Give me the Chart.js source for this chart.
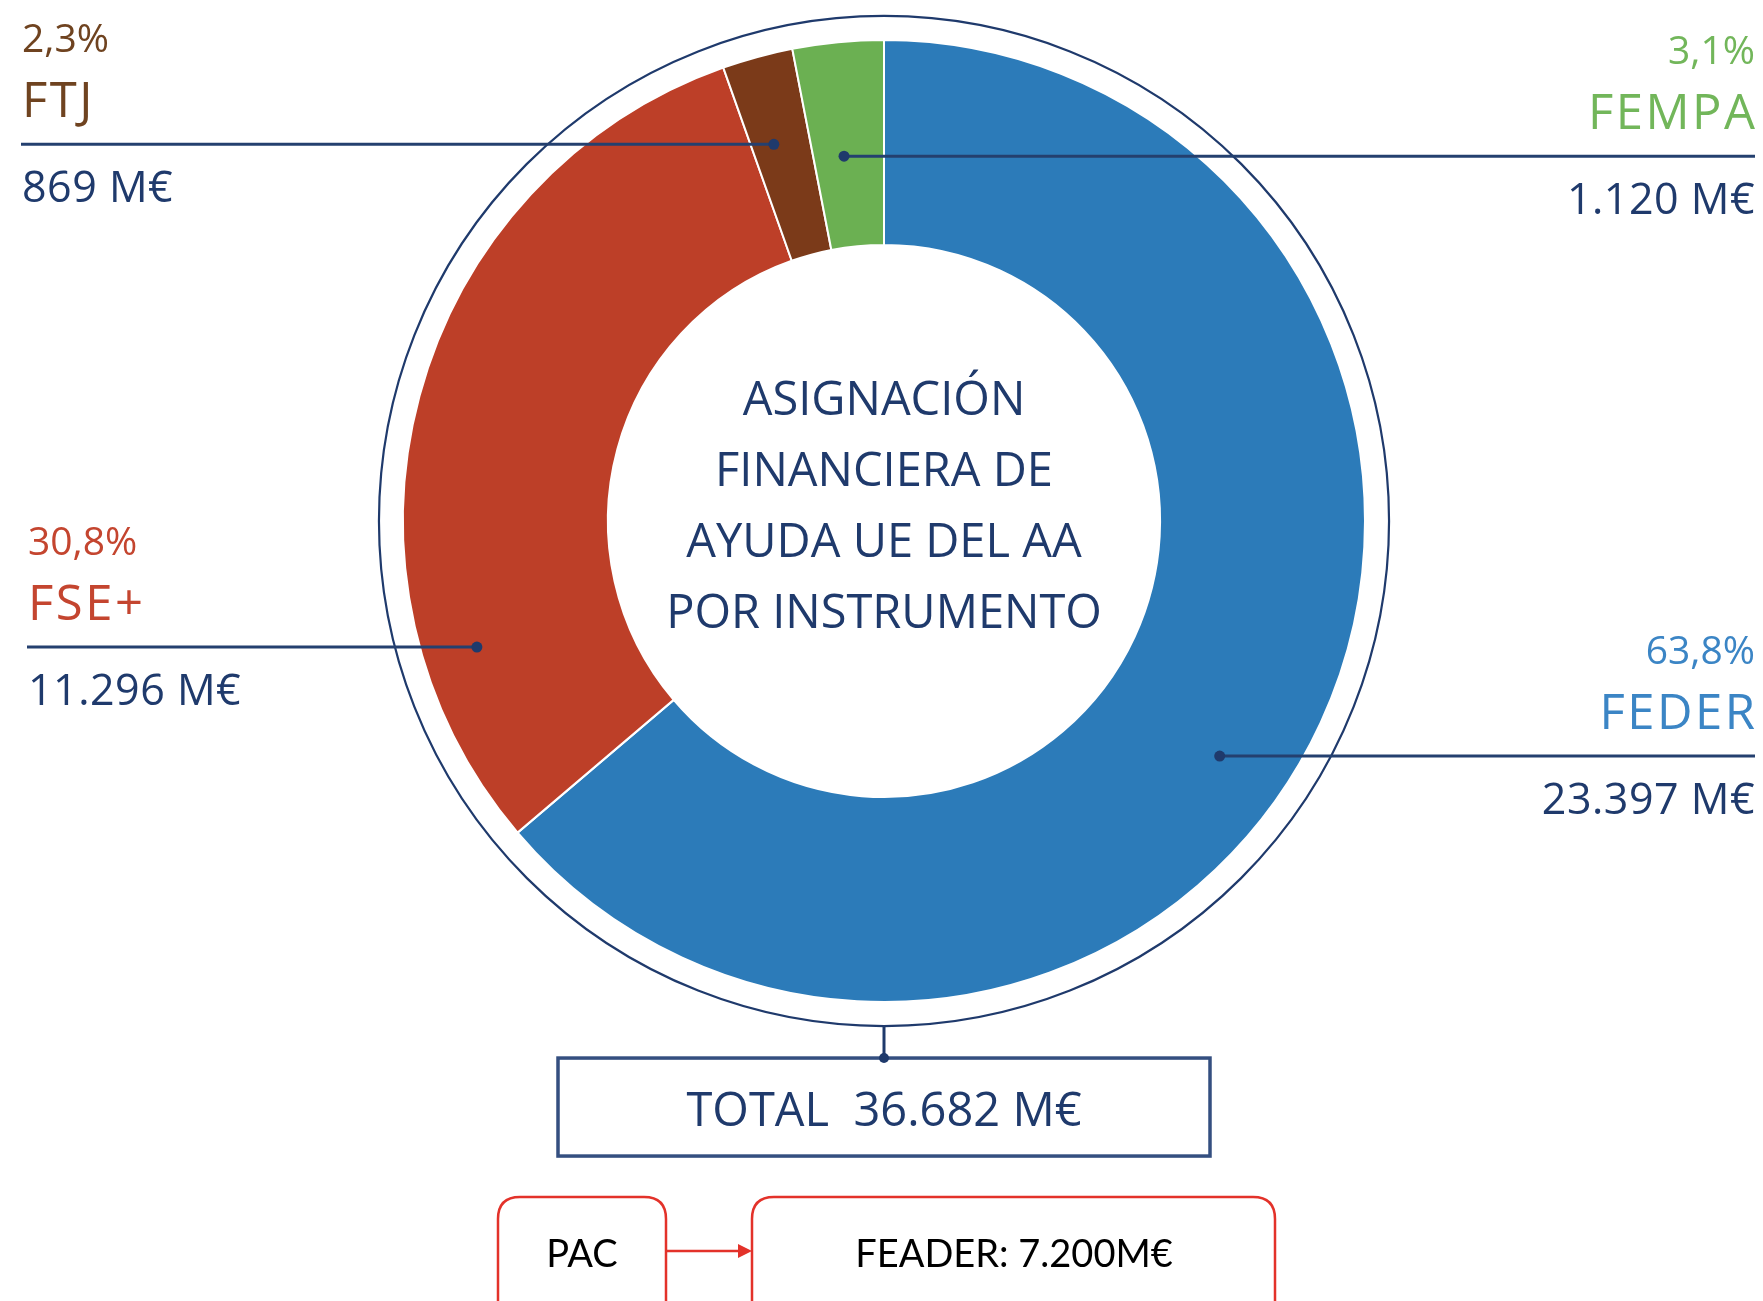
<!DOCTYPE html>
<html lang="es">
<head>
<meta charset="utf-8">
<title>Asignación financiera de ayuda UE del AA por instrumento</title>
<script src="https://cdn.jsdelivr.net/npm/chart.js@4.4.1/dist/chart.umd.min.js"></script>
<style>
  html, body { margin: 0; padding: 0; background: #ffffff; }
  #wrap { position: relative; width: 1763px; height: 1301px; }
</style>
</head>
<body>
<div id="wrap"><canvas id="fondosChart"></canvas></div>
<script>
const instrumentos = ['FEDER', 'FSE+', 'FTJ', 'FEMPA'];
const importes = [23397, 11296, 869, 1120]; // M€
const porcentajes = ['63,8%', '30,8%', '2,3%', '3,1%'];
const importesTexto = ['23.397 M€', '11.296 M€', '869 M€', '1.120 M€'];
const tituloCentro = ['ASIGNACIÓN', 'FINANCIERA DE', 'AYUDA UE DEL AA', 'POR INSTRUMENTO'];
const totalTexto = 'TOTAL  36.682 M€';
const pacTexto = 'PAC';
const feaderTexto = 'FEADER: 7.200M€';

const coloresSector = ['#2c7bb9', '#bd3f28', '#7b3a19', '#6bb052'];
const coloresEtiqueta = ['#3b85c5', '#c4452f', '#6f4320', '#72b65a'];
const NAVY = '#1f3a6c';
const ROJO = '#e3322a';

// leader dots: angle clockwise from 12 o'clock, distance as share of outer radius
const llamadas = [
  { lado: 'right', angulo: 125.0, radio: 0.852, margen: 8 },
  { lado: 'left', angulo: 252.8, radio: 0.886, margen: 28 },
  { lado: 'left', angulo: 343.7, radio: 0.816, margen: 22 },
  { lado: 'right', angulo: 353.75, radio: 0.763, margen: 8 }
];

function roundRect(c, x, y, w, h, r) {
  c.beginPath();
  c.moveTo(x + r, y);
  c.lineTo(x + w - r, y);
  c.quadraticCurveTo(x + w, y, x + w, y + r);
  c.lineTo(x + w, y + h - r);
  c.quadraticCurveTo(x + w, y + h, x + w - r, y + h);
  c.lineTo(x + r, y + h);
  c.quadraticCurveTo(x, y + h, x, y + h - r);
  c.lineTo(x, y + r);
  c.quadraticCurveTo(x, y, x + r, y);
  c.closePath();
}

const anotaciones = {
  id: 'anotaciones',
  afterDraw(chart) {
    const arc = chart.getDatasetMeta(0).data[0];
    const cx = arc.x, cy = arc.y, R = arc.outerRadius;
    const W = chart.width;
    const c = chart.ctx;
    c.save();

    // outer thin ring
    const ringR = R * 1.05;
    c.beginPath();
    c.arc(cx, cy, ringR, 0, Math.PI * 2);
    c.strokeStyle = NAVY;
    c.lineWidth = 2.2;
    c.stroke();

    // title in the hole
    c.fillStyle = NAVY;
    c.font = '47px "Open Sans"';
    c.textAlign = 'center';
    c.textBaseline = 'alphabetic';
    tituloCentro.forEach((t, i) => c.fillText(t, cx, cy + (i - 1.5) * 71));

    // callouts
    llamadas.forEach((l, i) => {
      const a = (l.angulo - 90) * Math.PI / 180;
      const px = cx + Math.cos(a) * R * l.radio;
      const py = cy + Math.sin(a) * R * l.radio;
      const izq = l.lado === 'left';
      const tx = izq ? l.margen : W - l.margen;

      c.beginPath();
      c.moveTo(izq ? l.margen - 1 : px, py);
      c.lineTo(izq ? px : W - l.margen, py);
      c.strokeStyle = '#24406f';
      c.lineWidth = 3;
      c.stroke();
      c.beginPath();
      c.arc(px, py, 5.5, 0, Math.PI * 2);
      c.fillStyle = NAVY;
      c.fill();

      c.textAlign = izq ? 'left' : 'right';
      c.fillStyle = coloresEtiqueta[i];
      c.font = '39px "Open Sans"';
      c.fillText(porcentajes[i], tx, py - 92);
      c.font = '49px "Open Sans"';
      c.letterSpacing = '2.5px';
      c.fillText(instrumentos[i], tx + (izq ? 0 : 2.5), py - 27);
      c.letterSpacing = '0.5px';
      c.fillStyle = NAVY;
      c.font = '43px "Open Sans"';
      c.fillText(importesTexto[i], tx, py + 58);
      c.letterSpacing = '0px';
    });

    // total box with connector
    const boxTop = cy + ringR + 32;
    const boxW = 652, boxH = 98;
    c.beginPath();
    c.moveTo(cx, cy + ringR);
    c.lineTo(cx, boxTop);
    c.strokeStyle = NAVY;
    c.lineWidth = 3;
    c.stroke();
    c.strokeStyle = '#344f80';
    c.lineWidth = 3.5;
    c.strokeRect(cx - boxW / 2, boxTop, boxW, boxH);
    c.beginPath();
    c.arc(cx, boxTop, 5, 0, Math.PI * 2);
    c.fillStyle = NAVY;
    c.fill();
    c.textAlign = 'center';
    c.font = '47px "Open Sans"';
    c.fillText(totalTexto, cx, boxTop + 68);

    // PAC -> FEADER boxes
    const pTop = boxTop + 139;
    c.strokeStyle = ROJO;
    c.lineWidth = 2.5;
    roundRect(c, cx - 386, pTop, 168, 140, 22);
    c.stroke();
    roundRect(c, cx - 132, pTop, 523, 140, 22);
    c.stroke();
    const ay = pTop + 54;
    c.beginPath();
    c.moveTo(cx - 218, ay);
    c.lineTo(cx - 146, ay);
    c.stroke();
    c.beginPath();
    c.moveTo(cx - 132, ay);
    c.lineTo(cx - 146, ay - 7);
    c.lineTo(cx - 146, ay + 7);
    c.closePath();
    c.fillStyle = ROJO;
    c.fill();
    c.fillStyle = '#000000';
    c.font = '38px Lato';
    c.fillText(pacTexto, cx - 302, pTop + 70);
    c.fillText(feaderTexto, cx + 130, pTop + 70);

    c.restore();
  }
};

function drawChart() {
  const ctx = document.getElementById('fondosChart').getContext('2d');
  new Chart(ctx, {
    type: 'doughnut',
    data: {
      labels: instrumentos,
      datasets: [{
        data: importes,
        backgroundColor: coloresSector,
        borderColor: '#ffffff',
        borderWidth: 2,
        hoverOffset: 0
      }]
    },
    options: {
      responsive: true,
      maintainAspectRatio: false,
      animation: false,
      events: [],
      cutout: '57.4%',
      layout: { padding: { left: 402, right: 397, top: 39, bottom: 298 } },
      plugins: {
        legend: { display: false },
        tooltip: { enabled: false }
      }
    },
    plugins: [anotaciones]
  });
}

window.addEventListener('load', () => {
  Promise.all([
    document.fonts.load('47px "Open Sans"'),
    document.fonts.load('38px Lato')
  ]).catch(() => {}).then(drawChart);
});
</script>
</body>
</html>
